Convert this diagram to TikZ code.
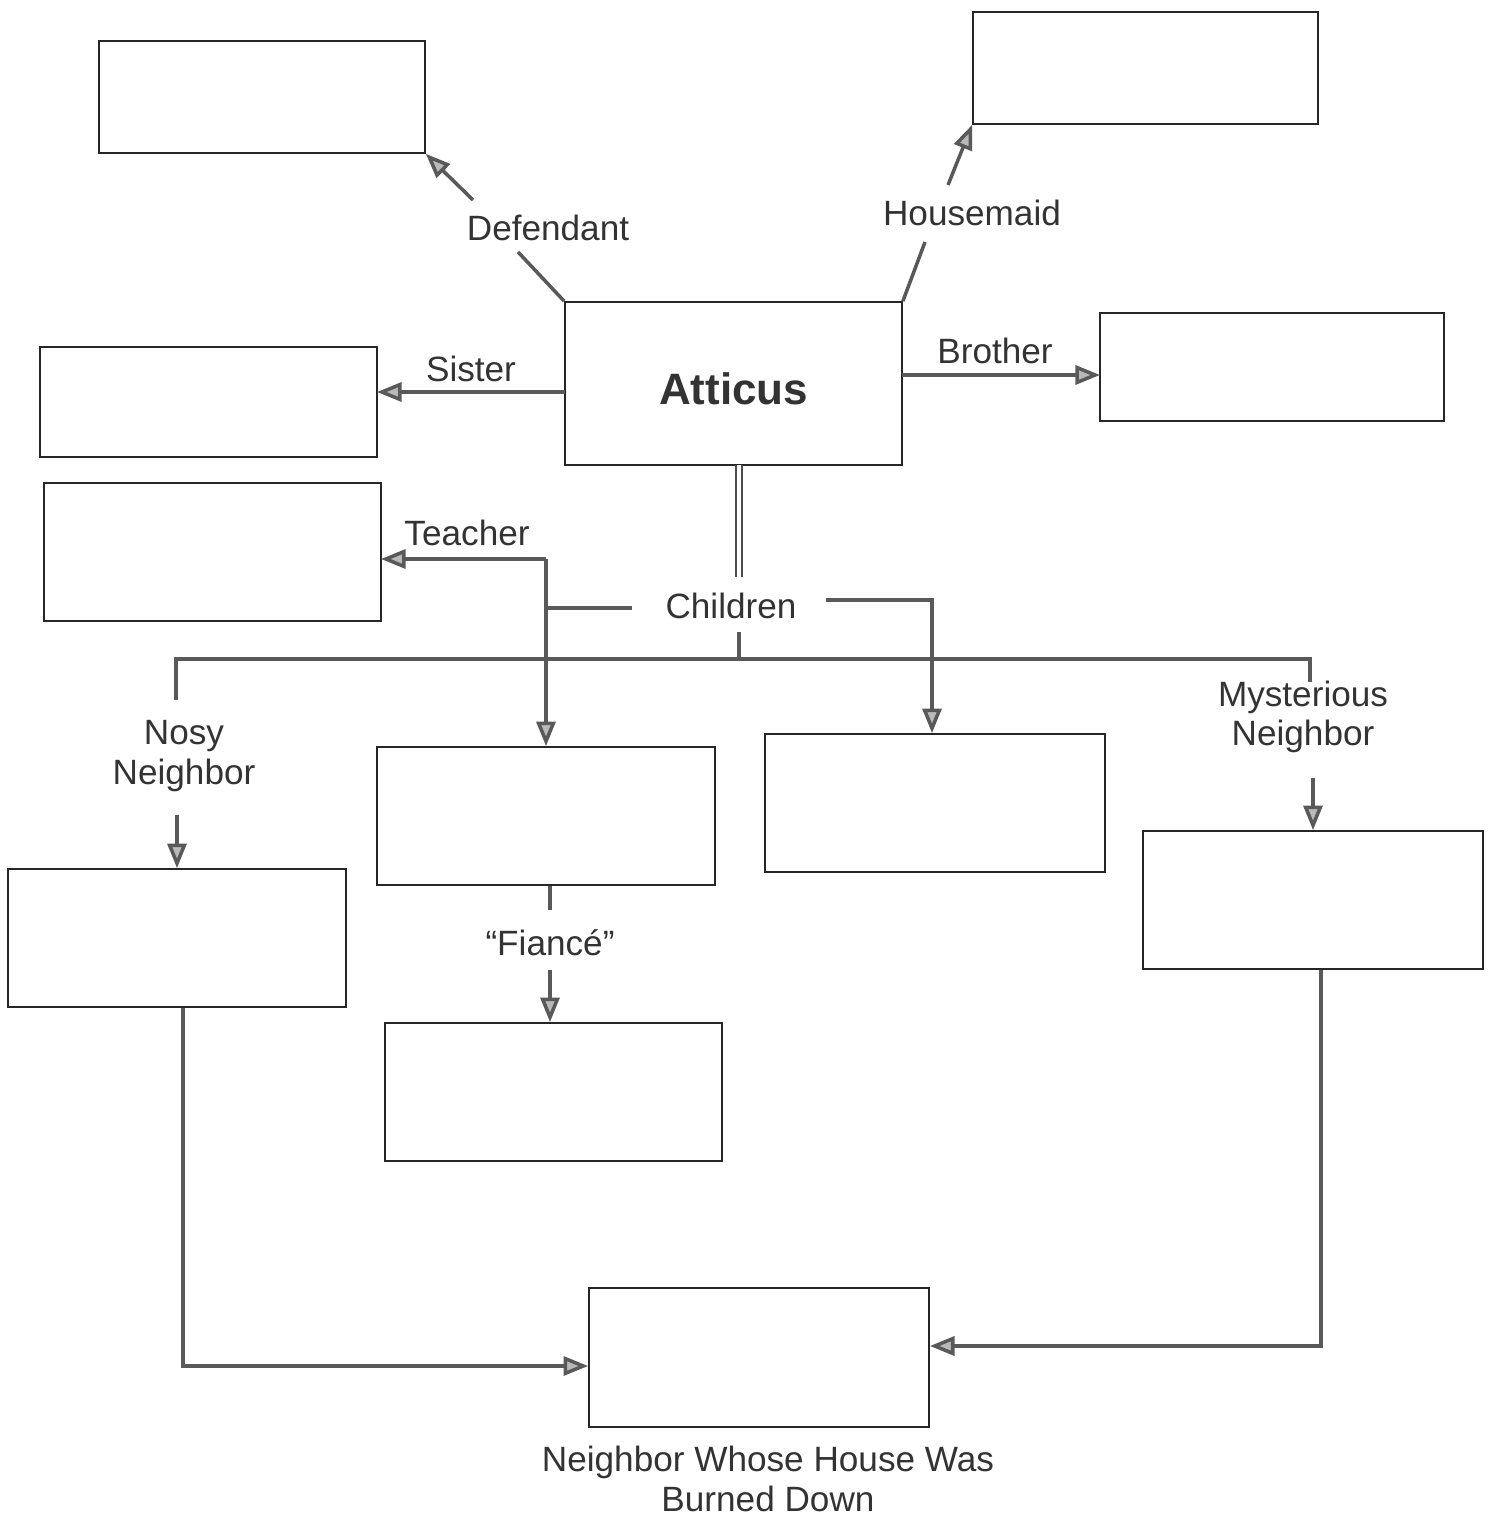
\documentclass[tikz,border=0pt]{standalone}
\usepackage{fontspec}
\setmainfont{Liberation Sans}
\usetikzlibrary{arrows.meta,fit}
\begin{document}
\begin{tikzpicture}[x=0.01cm,y=-0.01cm,
  box/.style={draw=black!85,line width=0.5pt,inner sep=0pt,fill=white},
  conn/.style={draw=black!65,line width=1pt},
  tip/.style={-{Triangle[length=7pt,width=5.4pt,fill=gray!55]}},
  lbl/.style={font=\fontsize{10}{11.2}\selectfont,text=black!80,align=center,inner sep=1pt},
  dbl/.style={draw=black!70,line width=0.55pt,double=white,double distance=1.3pt}]
\useasboundingbox (0,0) rectangle (1494,1515);
% boxes
\node[box,fit={(99,41) (425,153)}] (tl) {};
\node[box,fit={(973,12) (1318,124)}] (tr) {};
\node[box,fit={(565,302) (902,465)},label={[font=\fontsize{12.5}{14}\bfseries\selectfont,text=black!80,yshift=-0.05cm]center:Atticus}] (atticus) {};
\node[box,fit={(40,347) (377,457)}] (sister) {};
\node[box,fit={(1100,313) (1444,421)}] (brother) {};
\node[box,fit={(44,483) (381,621)}] (teacher) {};
\node[box,fit={(377,747) (715,885)}] (midA) {};
\node[box,fit={(765,734) (1105,872)}] (midB) {};
\node[box,fit={(8,869) (346,1007)}] (nosy) {};
\node[box,fit={(1143,831) (1483,969)}] (myst) {};
\node[box,fit={(385,1023) (722,1161)}] (fiance) {};
\node[box,fit={(589,1288) (929,1427)}] (burn) {};
% labels
\node[lbl] (ldef) at (548,228) {Defendant};
\node[lbl] (lhouse) at (972,213) {Housemaid};
\node[lbl] (lsis) at (471,369) {Sister};
\node[lbl] (lbro) at (995,351) {Brother};
\node[lbl] (lteach) at (467,533) {Teacher};
\node[lbl] (lchild) at (731,606) {Children};
\node[lbl] (lnosy) at (184,756) {Nosy\\Neighbor};
\node[lbl] (lmyst) at (1303,717) {Mysterious\\Neighbor};
\node[lbl] (lfia) at (550,943) {“Fiancé”};
\node[lbl] (lburn) at (768,1479) {Neighbor Whose House Was\\Burned Down};
% coordinates
\coordinate (d1) at (518,252);
\coordinate (d2) at (473,200);
\coordinate (h1) at (925,242);
\coordinate (h2) at (948,185);
\coordinate (s1) at (565,392);
\coordinate (s2) at (377,392);
\coordinate (b1) at (902,375);
\coordinate (b2) at (1100,375);
\coordinate (c1) at (739,465);
\coordinate (c2) at (739,577);
\coordinate (c3) at (739,632);
\coordinate (c4) at (739,659);
\coordinate (hl) at (176,659);
\coordinate (hr) at (1310,659);
\coordinate (nl) at (176,700);
\coordinate (mr) at (1310,682);
\coordinate (n1) at (177,815);
\coordinate (m1) at (1313,778);
\coordinate (t0) at (546,559);
\coordinate (t1) at (381,559);
\coordinate (cl) at (632,608);
\coordinate (cl2) at (546,608);
\coordinate (cr) at (826,600);
\coordinate (cr2) at (932,600);
\coordinate (f1) at (550,910);
\coordinate (f2) at (550,970);
\coordinate (nb) at (183,1366);
\coordinate (mb) at (1321,1346);
% connectors
\draw[conn] (atticus.north west) -- (d1);
\draw[conn,tip] (d2) -- (tl.south east);
\draw[conn] (atticus.north east) -- (h1);
\draw[conn,tip] (h2) -- (tr.south west);
\draw[conn,tip] (s1) -- (s2);
\draw[conn,tip] (b1) -- (b2);
\draw[dbl] (c1) -- (c2);
\draw[conn] (c3) -- (c4);
\draw[conn] (nl) -- (hl) -- (hr) -- (mr);
\draw[conn,tip] (n1) -- (nosy.north);
\draw[conn,tip] (m1) -- (myst.north);
\draw[conn,tip] (t0) -- (t1);
\draw[conn,tip] (t0) -- (t0 |- midA.north);
\draw[conn] (cl) -- (cl2);
\draw[conn,tip] (cr) -- (cr2) -- (cr2 |- midB.north);
\draw[conn] (f1 |- midA.south) -- (f1);
\draw[conn,tip] (f2) -- (f2 |- fiance.north);
\draw[conn,tip] (nb |- nosy.south) -- (nb) -- (nb -| burn.west);
\draw[conn,tip] (mb |- myst.south) -- (mb) -- (mb -| burn.east);
\end{tikzpicture}
\end{document}
